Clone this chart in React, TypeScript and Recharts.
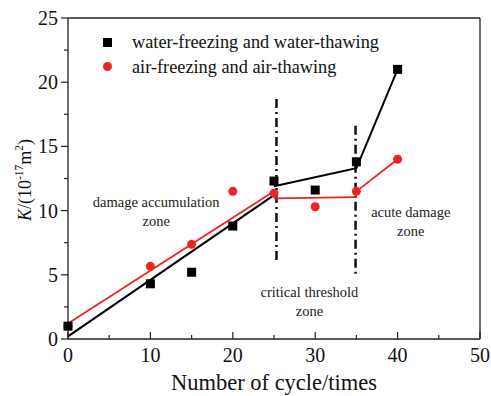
import React from 'react';
import {
  ComposedChart, Line, Scatter, XAxis, YAxis, ReferenceLine, ReferenceDot, Label,
} from 'recharts';

// measured points
const cycles = [0, 10, 15, 20, 25, 30, 35, 40];
const waterK = [1.0, 4.3, 5.2, 8.8, 12.3, 11.6, 13.8, 21.0];
const airK = [1.0, 5.66, 7.37, 11.5, 11.36, 10.3, 11.5, 14.0];

// piecewise fitted lines
const waterFit1 = [{ x: 0, y: 0.2 }, { x: 25, y: 11.2 }];
const waterFit2 = [{ x: 25, y: 11.9 }, { x: 35, y: 13.3 }, { x: 40, y: 21.0 }];
const airFit1 = [{ x: 0, y: 1.2 }, { x: 25, y: 11.5 }];
const airFit2 = [{ x: 25, y: 10.95 }, { x: 35, y: 11.05 }];
const airFit3 = [{ x: 35, y: 11.5 }, { x: 40, y: 14.0 }];

// zone boundaries
const boundary1 = [{ x: 25.3, y: 18.7 }, { x: 25.3, y: 6.1 }];
const boundary2 = [{ x: 34.9, y: 16.6 }, { x: 34.9, y: 5.05 }];

const xTicks = [0, 5, 10, 15, 20, 25, 30, 35, 40, 45, 50];
const yTicks = [0, 2.5, 5, 7.5, 10, 12.5, 15, 17.5, 20, 22.5, 25];

const legendNames = ['water-freezing and water-thawing', 'air-freezing and air-thawing'];

const waterData = cycles.map((c, i) => ({ x: c, y: waterK[i] }));
const airData = cycles.map((c, i) => ({ x: c, y: airK[i] }));

const FONT = '"Liberation Serif", "Times New Roman", serif';
const RED = '#ee2222';

const XTick = (props: any) => {
  const { x, y, payload } = props;
  const major = payload.value % 10 === 0;
  return (
    <g>
      <line x1={x} x2={x} y1={y} y2={y - (major ? 7 : 4)} stroke="#222" strokeWidth={1.2} />
      {major && (
        <text x={x} y={y + 23} textAnchor="middle" fontSize={20} fontFamily={FONT} fill="#111">
          {payload.value}
        </text>
      )}
    </g>
  );
};

const YTick = (props: any) => {
  const { x, y, payload } = props;
  const major = payload.value % 5 === 0;
  return (
    <g>
      <line x1={x} x2={x - (major ? 7 : 4)} y1={y} y2={y} stroke="#222" strokeWidth={1.2} />
      {major && (
        <text x={x - 10} y={y + 7} textAnchor="end" fontSize={20} fontFamily={FONT} fill="#111">
          {payload.value}
        </text>
      )}
    </g>
  );
};

const Square = (props: any) => {
  const { cx, cy } = props;
  return <rect x={cx - 4.5} y={cy - 4.5} width={9} height={9} fill="#000" />;
};

const Dot = (props: any) => {
  const { cx, cy } = props;
  return <circle cx={cx} cy={cy} r={4.5} fill={RED} />;
};

const zoneLabel = (lines: string[]) => (props: any) => {
  const { viewBox } = props;
  const cx = viewBox.x + (viewBox.width || 0) / 2;
  const cy = viewBox.y + (viewBox.height || 0) / 2;
  return (
    <text x={cx} y={cy} textAnchor="middle" fontSize={14.5} fontFamily={FONT} fill="#222">
      {lines.map((l, i) => (
        <tspan key={i} x={cx} dy={i === 0 ? 0 : 19}>{l}</tspan>
      ))}
    </text>
  );
};

export default function App() {
  return (
    <div style={{ position: 'absolute', left: 0, top: 0, width: 491, height: 396, background: '#fff' }}>
      <ComposedChart width={491} height={396} margin={{ top: 18, right: 11, bottom: 0, left: 0 }}>
        <XAxis
          type="number" dataKey="x" domain={[0, 50]} ticks={xTicks} interval={0}
          height={57} tickSize={0} tickMargin={0} tickLine={false} tick={<XTick />}
          stroke="#222" strokeWidth={1.3}
        >
          <Label
            value="Number of cycle/times" position="insideBottom" offset={6}
            style={{ fontFamily: FONT, fontSize: 22.5, fill: '#111' }}
          />
        </XAxis>
        <YAxis
          type="number" dataKey="y" domain={[0, 25]} ticks={yTicks} interval={0}
          width={68} tickSize={0} tickMargin={0} tickLine={false} tick={<YTick />}
          stroke="#222" strokeWidth={1.3}
        >
          <Label
            content={() => (
              <text transform="translate(31,180) rotate(-90)" textAnchor="middle" fontFamily={FONT} fontSize={18} fill="#111">
                <tspan fontStyle="italic">K</tspan>
                <tspan>/(10</tspan>
                <tspan dy={-8} fontSize={11.5}>-17</tspan>
                <tspan dy={8}>m</tspan>
                <tspan dy={-8} fontSize={11.5}>2</tspan>
                <tspan dy={8}>)</tspan>
              </text>
            )}
          />
        </YAxis>
        {/* frame top/right */}
        <ReferenceLine y={25} stroke="#222" strokeWidth={1.3} />
        <ReferenceLine x={50} stroke="#222" strokeWidth={1.3} />

        <ReferenceLine segment={boundary1} stroke="#111" strokeWidth={2.5} strokeDasharray="9 4 2 4" />
        <ReferenceLine segment={boundary2} stroke="#111" strokeWidth={2.5} strokeDasharray="9 4 2 4" />

        <Line data={airFit1} dataKey="y" stroke={RED} strokeWidth={1.8} dot={false} isAnimationActive={false} />
        <Line data={airFit2} dataKey="y" stroke={RED} strokeWidth={1.8} dot={false} isAnimationActive={false} />
        <Line data={airFit3} dataKey="y" stroke={RED} strokeWidth={1.8} dot={false} isAnimationActive={false} />
        <Line data={waterFit1} dataKey="y" stroke="#000" strokeWidth={2} dot={false} isAnimationActive={false} />
        <Line data={waterFit2} dataKey="y" stroke="#000" strokeWidth={2} dot={false} isAnimationActive={false} />

        <Scatter data={airData} dataKey="y" shape={<Dot />} isAnimationActive={false} />
        <Scatter data={waterData} dataKey="y" shape={<Square />} isAnimationActive={false} />

        <ReferenceDot x={10.7} y={10.3} r={0} label={zoneLabel(['damage accumulation', 'zone'])} />
        <ReferenceDot x={29.3} y={3.3} r={0} label={zoneLabel(['critical threshold', 'zone'])} />
        <ReferenceDot x={41.6} y={9.5} r={0} label={zoneLabel(['acute damage', 'zone'])} />
      </ComposedChart>
      <div
        style={{
          position: 'absolute', left: 103, top: 30, fontFamily: FONT, fontSize: 18.3,
          color: '#111', lineHeight: '24.5px', whiteSpace: 'nowrap',
        }}
      >
        {legendNames.map((name, i) => (
          <div key={name} style={{ display: 'flex', alignItems: 'center' }}>
            <span
              style={{
                width: 9, height: 9, display: 'inline-block', marginRight: 20,
                background: i === 0 ? '#000' : RED, borderRadius: i === 0 ? 0 : 5,
              }}
            />
            {name}
          </div>
        ))}
      </div>
    </div>
  );
}
